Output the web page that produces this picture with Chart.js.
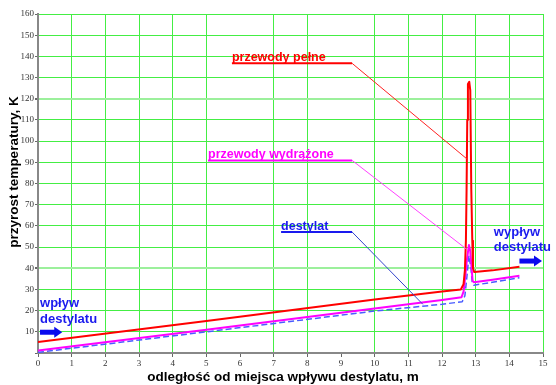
<!DOCTYPE html>
<html>
<head>
<meta charset="utf-8">
<script src="https://cdn.jsdelivr.net/npm/chart.js@4/dist/chart.umd.min.js"></script>
<style>
  html, body { margin: 0; padding: 0; background: #fff; }
  #wrap { width: 556px; height: 385px; position: relative; }
</style>
</head>
<body>
<div id="wrap"><canvas id="c" width="556" height="385"></canvas></div>
<script>
"use strict";

// distance from inlet, m  /  temperature rise, K
var redX = [0, 5, 10, 12, 12.56, 12.64, 12.68, 12.71, 12.73, 12.75, 12.77, 12.81, 12.84, 12.87, 12.9, 12.92, 12.96, 13.5, 14.3];
var redY = [5.2, 15.1, 25.2, 29, 30, 32.5, 39, 53, 77, 110, 127, 128, 124, 77, 53, 40, 38.2, 39, 40.7];

var magX = [0, 5, 10, 12, 12.58, 12.64, 12.68, 12.74, 12.8, 12.84, 12.88, 12.91, 12.95, 13.5, 14.3];
var magY = [1.2, 11, 21, 25, 26.3, 29, 34.4, 44, 51, 48, 40, 34, 33.4, 34.6, 36.5];

var bluX = [0, 5, 10, 12, 12.6, 12.68, 12.74, 12.8, 12.86, 12.9, 12.95, 13.5, 14.3];
var bluY = [0.3, 10, 19.8, 23, 24.2, 27, 36, 46, 40, 33, 32, 33.4, 35.5];

var xTicks = [0, 1, 2, 3, 4, 5, 6, 7, 8, 9, 10, 11, 12, 13, 14, 15];
var yTicks = [0, 10, 20, 30, 40, 50, 60, 70, 80, 90, 100, 110, 120, 130, 140, 150, 160];

var xTitle = "odległość od miejsca wpływu destylatu, m";
var yTitle = "przyrost temperatury, K";

// callouts: label anchor, underline end, pointer target (data units)
var callouts = [
  { text: "przewody pełne", color: "#ff0000", line: "#ff2020", x: 5.76, y: 137.6, ux: 9.33, uy: 136.7, tx: 12.77, ty: 91.2 },
  { text: "przewody wydrążone", color: "#ff00ff", line: "#ff40ff", x: 5.05, y: 91.8, ux: 9.33, uy: 90.9, tx: 12.73, ty: 49 },
  { text: "destylat", color: "#1a1aee", line: "#3344cc", x: 7.22, y: 58.0, ux: 9.33, uy: 57.1, tx: 11.43, ty: 23 }
];

// flow labels with arrows
var flows = [
  { lines: ["wpływ", "destylatu"], x: 0.06, y1: 21.6, y2: 14.2, ax0: 0.06, ax1: 0.72, ay: 9.8 },
  { lines: ["wypływ", "destylatu"], x: 13.54, y1: 55.2, y2: 48.0, ax0: 14.3, ax1: 14.97, ay: 43.4 }
];

function pts(xs, ys) {
  return xs.map(function(x, i) { return { x: x, y: ys[i] }; });
}

var GREEN = "#44ee44";

var overlay = {
  id: "overlay",
  afterDatasetsDraw: function(chart) {
    var ctx = chart.ctx;
    var xs = chart.scales.x, ys = chart.scales.y;
    var ca = chart.chartArea;
    ctx.save();

    // callouts
    callouts.forEach(function(c) {
      var px = xs.getPixelForValue(c.x), py = ys.getPixelForValue(c.y);
      ctx.font = "bold 12.5px 'Liberation Sans', Arial, sans-serif";
      ctx.fillStyle = c.color;
      ctx.textBaseline = "alphabetic";
      ctx.textAlign = "left";
      ctx.fillText(c.text, px, py);
      var uy = ys.getPixelForValue(c.uy), ux = xs.getPixelForValue(c.ux);
      ctx.strokeStyle = c.color;
      ctx.lineWidth = 2;
      ctx.beginPath();
      ctx.moveTo(px, uy); ctx.lineTo(ux, uy);
      ctx.stroke();
      ctx.strokeStyle = c.line;
      ctx.lineWidth = 1;
      ctx.beginPath();
      ctx.moveTo(ux, uy);
      ctx.lineTo(xs.getPixelForValue(c.tx), ys.getPixelForValue(c.ty));
      ctx.stroke();
    });

    // flow labels + arrows
    flows.forEach(function(f) {
      var px = xs.getPixelForValue(f.x);
      ctx.font = "bold 13px 'Liberation Sans', Arial, sans-serif";
      ctx.fillStyle = "#1a1aee";
      ctx.textAlign = "left";
      ctx.fillText(f.lines[0], px, ys.getPixelForValue(f.y1));
      ctx.fillText(f.lines[1], px, ys.getPixelForValue(f.y2));
      var a0 = xs.getPixelForValue(f.ax0), a1 = xs.getPixelForValue(f.ax1);
      var ay = ys.getPixelForValue(f.ay);
      ctx.fillStyle = "#0a0aee";
      ctx.fillRect(a0, ay - 2.5, a1 - a0 - 7, 5);
      ctx.beginPath();
      ctx.moveTo(a1 - 8, ay - 5.5);
      ctx.lineTo(a1, ay);
      ctx.lineTo(a1 - 8, ay + 5.5);
      ctx.closePath();
      ctx.fill();
    });

    // axis titles
    ctx.fillStyle = "#000";
    ctx.font = "bold 13.5px 'Liberation Sans', Arial, sans-serif";
    ctx.textAlign = "center";
    ctx.textBaseline = "middle";
    ctx.fillText(xTitle, 283, 377);
    ctx.translate(14, 172);
    ctx.rotate(-Math.PI / 2);
    ctx.fillText(yTitle, 0, 0);
    ctx.restore();
  }
};

var tickFont = { family: "'Liberation Serif', 'Times New Roman', serif", size: 9 };

new Chart(document.getElementById("c").getContext("2d"), {
  type: "line",
  data: {
    datasets: [
      { label: "przewody pełne", data: pts(redX, redY), borderColor: "#ff0000", borderWidth: 2, order: 0 },
      { label: "przewody wydrążone", data: pts(magX, magY), borderColor: "#ff00ff", borderWidth: 2, order: 1 },
      { label: "destylat", data: pts(bluX, bluY), borderColor: "#4a5cff", borderWidth: 1.5, borderDash: [6, 3], order: 2 }
    ]
  },
  options: {
    responsive: false,
    animation: false,
    devicePixelRatio: 1,
    layout: { padding: { top: 14, right: 13, left: 0, bottom: 0 } },
    elements: { point: { radius: 0 }, line: { tension: 0, fill: false, borderJoinStyle: "round" } },
    plugins: { legend: { display: false }, tooltip: { enabled: false } },
    scales: {
      x: {
        type: "linear", min: 0, max: 15,
        afterBuildTicks: function(s) { s.ticks = xTicks.map(function(v) { return { value: v }; }); },
        afterFit: function(s) { s.height = 32; },
        ticks: { font: tickFont, color: "#333", padding: 1, maxRotation: 0, autoSkip: false },
        grid: {
          color: function(c) { return (c.tick && (c.tick.value === 6 || c.tick.value === 9)) ? "rgba(0,0,0,0)" : GREEN; },
          tickColor: "#666", tickLength: 4, lineWidth: 1
        },
        border: { color: "#888", width: 2 }
      },
      y: {
        type: "linear", min: 0, max: 160,
        afterBuildTicks: function(s) { s.ticks = yTicks.map(function(v) { return { value: v }; }); },
        afterFit: function(s) { s.width = 38; },
        ticks: {
          font: tickFont, color: "#333", padding: 1, autoSkip: false,
          callback: function(v) { return v === 0 ? "" : v; }
        },
        grid: {
          color: function(c) { return (c.tick && (c.tick.value === 120 || c.tick.value === 40)) ? "#9cf09c" : GREEN; },
          lineWidth: function(c) { return (c.tick && (c.tick.value === 120 || c.tick.value === 40)) ? 2 : 1; },
          tickColor: "#666", tickLength: 3
        },
        border: { color: "#888", width: 2 }
      }
    }
  },
  plugins: [overlay]
});
</script>
</body>
</html>
